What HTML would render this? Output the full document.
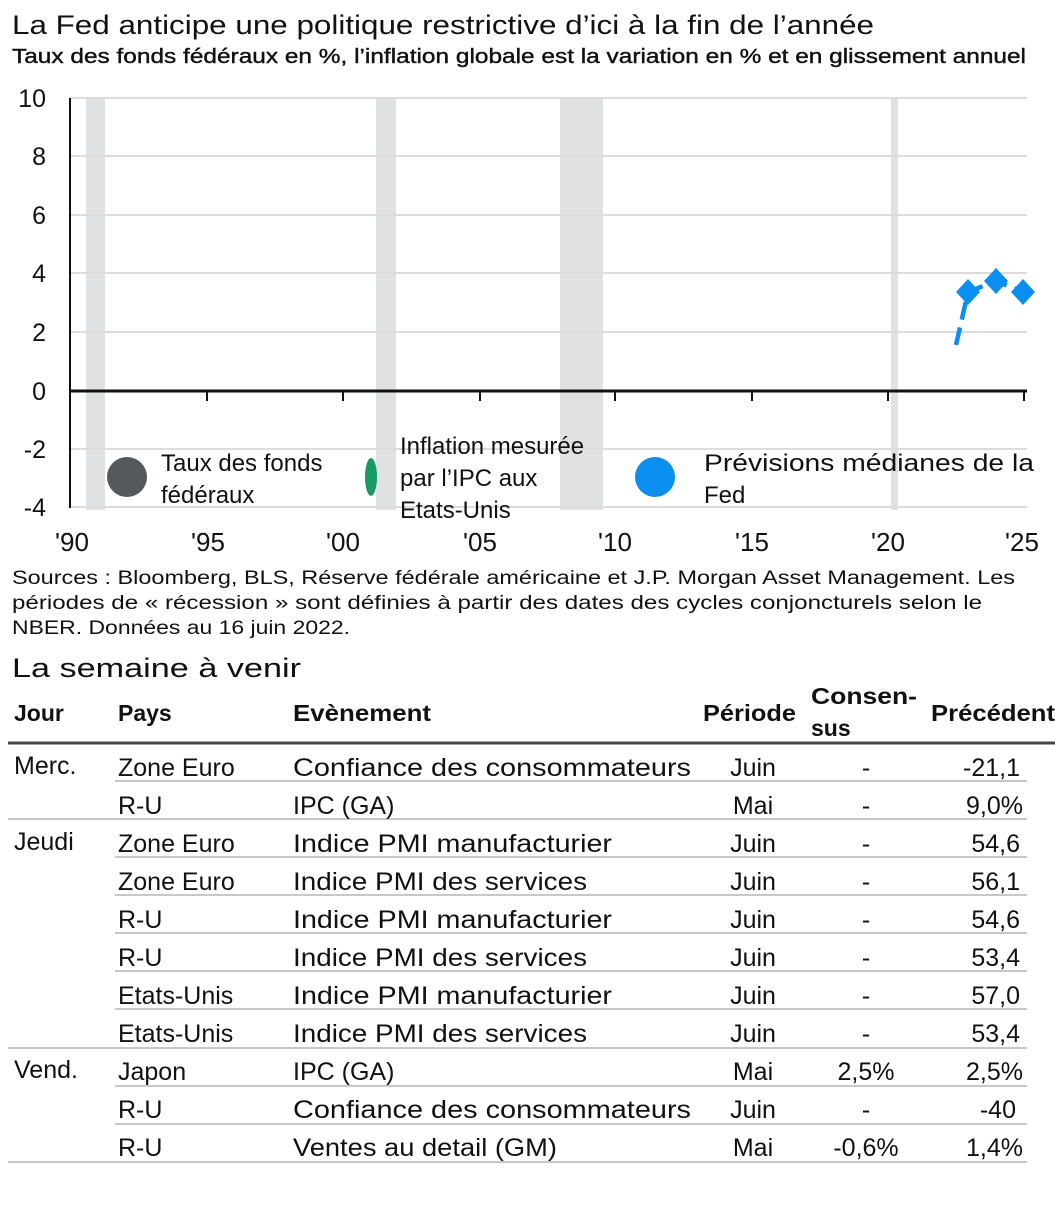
<!DOCTYPE html>
<html><head><meta charset="utf-8"><style>
body{margin:0;background:#fff}
svg text{font-family:"Liberation Sans",sans-serif;fill:#111}
</style></head><body>
<svg width="1055" height="1200" viewBox="0 0 1055 1200" xmlns="http://www.w3.org/2000/svg">
<text x="12" y="34" font-size="27" textLength="862" lengthAdjust="spacingAndGlyphs">La Fed anticipe une politique restrictive d’ici à la fin de l’année</text>
<text x="12" y="63" font-size="20" fill="#111" stroke="#111" stroke-width="0.4" textLength="1014" lengthAdjust="spacingAndGlyphs">Taux des fonds fédéraux en %, l’inflation globale est la variation en % et en glissement annuel</text>
<g fill="#e0e1e3">
<rect x="86" y="98" width="19" height="412"/>
<rect x="376" y="98" width="20" height="412"/>
<rect x="560" y="98" width="43" height="412"/>
<rect x="891" y="98" width="7" height="412"/>
</g>
<g stroke="#dcdcdc" stroke-width="2">
<line x1="70" y1="98" x2="1027" y2="98"/>
<line x1="70" y1="156" x2="1027" y2="156"/>
<line x1="70" y1="215" x2="1027" y2="215"/>
<line x1="70" y1="273" x2="1027" y2="273"/>
<line x1="70" y1="332" x2="1027" y2="332"/>
<line x1="70" y1="449" x2="1027" y2="449"/>
<line x1="70" y1="507" x2="1027" y2="507"/>
</g>
<line x1="70" y1="98" x2="70" y2="508" stroke="#111" stroke-width="2"/>
<line x1="70" y1="391" x2="1027" y2="391" stroke="#111" stroke-width="3"/>
<g stroke="#111" stroke-width="2">
<line x1="207" y1="391" x2="207" y2="401"/><line x1="343" y1="391" x2="343" y2="401"/>
<line x1="480" y1="391" x2="480" y2="401"/><line x1="615" y1="391" x2="615" y2="401"/>
<line x1="752" y1="391" x2="752" y2="401"/><line x1="888" y1="391" x2="888" y2="401"/>
<line x1="1024" y1="391" x2="1024" y2="401"/>
</g>
<g font-size="25" text-anchor="end">
<text x="46" y="107">10</text><text x="46" y="165">8</text><text x="46" y="224">6</text>
<text x="46" y="282">4</text><text x="46" y="341">2</text><text x="46" y="400">0</text>
<text x="46" y="458">-2</text><text x="46" y="516">-4</text>
</g>
<g font-size="26" text-anchor="middle">
<text x="72" y="551">'90</text><text x="208" y="551">'95</text><text x="343" y="551">'00</text>
<text x="480" y="551">'05</text><text x="615" y="551">'10</text><text x="752" y="551">'15</text>
<text x="888" y="551">'20</text><text x="1022" y="551">'25</text>
</g>
<path d="M956,345 L968,292 L996,281 L1023,292" fill="none" stroke="#0a8ff0" stroke-width="4.5" stroke-dasharray="18,8"/>
<g fill="#0a8ff0">
<path d="M968,279 l12,13 -12,13 -12,-13z"/>
<path d="M996,268 l12,13 -12,13 -12,-13z"/>
<path d="M1023,279 l12,13 -12,13 -12,-13z"/>
</g>
<circle cx="127" cy="477" r="20" fill="#55585c"/>
<ellipse cx="371" cy="477" rx="6" ry="19" fill="#1a9a62"/>
<circle cx="655" cy="477" r="20" fill="#0a8ff0"/>
<g font-size="24">
<text x="161" y="471">Taux des fonds</text><text x="161" y="503">fédéraux</text>
<text x="400" y="454">Inflation mesurée</text><text x="400" y="486">par l’IPC aux</text><text x="400" y="518">Etats-Unis</text>
<text x="704" y="471" textLength="330" lengthAdjust="spacingAndGlyphs">Prévisions médianes de la</text><text x="704" y="503">Fed</text>
</g>
<g font-size="19" fill="#222">
<text x="12" y="584" textLength="1003" lengthAdjust="spacingAndGlyphs">Sources : Bloomberg, BLS, Réserve fédérale américaine et J.P. Morgan Asset Management. Les</text>
<text x="12" y="609" textLength="970" lengthAdjust="spacingAndGlyphs">périodes de « récession » sont définies à partir des dates des cycles conjoncturels selon le</text>
<text x="12" y="634" textLength="338" lengthAdjust="spacingAndGlyphs">NBER. Données au 16 juin 2022.</text>
</g>
<text x="12" y="677" font-size="27" textLength="289" lengthAdjust="spacingAndGlyphs">La semaine à venir</text>
<g font-size="23" font-weight="bold">
<text x="14" y="721">Jour</text><text x="118" y="721">Pays</text><text x="293" y="721" textLength="138" lengthAdjust="spacingAndGlyphs">Evènement</text>
<text x="703" y="721" textLength="93" lengthAdjust="spacingAndGlyphs">Période</text>
<text x="811" y="704" textLength="106" lengthAdjust="spacingAndGlyphs">Consen-</text><text x="811" y="736">sus</text>
<text x="931" y="721" textLength="124" lengthAdjust="spacingAndGlyphs">Précédent</text>
</g>
<line x1="8" y1="743" x2="1055" y2="743" stroke="#444" stroke-width="3"/>
<g stroke="#c8c8c8" stroke-width="2">
<line x1="115" y1="781" x2="1027" y2="781"/>
<line x1="8" y1="819" x2="1027" y2="819"/>
<line x1="115" y1="857" x2="1027" y2="857"/>
<line x1="115" y1="895" x2="1027" y2="895"/>
<line x1="115" y1="933" x2="1027" y2="933"/>
<line x1="115" y1="971" x2="1027" y2="971"/>
<line x1="115" y1="1009" x2="1027" y2="1009"/>
<line x1="8" y1="1048" x2="1027" y2="1048"/>
<line x1="115" y1="1086" x2="1027" y2="1086"/>
<line x1="115" y1="1124" x2="1027" y2="1124"/>
<line x1="8" y1="1162" x2="1027" y2="1162"/>
</g>
<g font-size="25">
<text x="14" y="774">Merc.</text><text x="14" y="850">Jeudi</text><text x="14" y="1078">Vend.</text>
<text x="118" y="776">Zone Euro</text><text x="118" y="814">R-U</text><text x="118" y="852">Zone Euro</text>
<text x="118" y="890">Zone Euro</text><text x="118" y="928">R-U</text><text x="118" y="966">R-U</text>
<text x="118" y="1004">Etats-Unis</text><text x="118" y="1042">Etats-Unis</text><text x="118" y="1080">Japon</text>
<text x="118" y="1118">R-U</text><text x="118" y="1156">R-U</text>
<text x="293" y="776" textLength="398" lengthAdjust="spacingAndGlyphs">Confiance des consommateurs</text>
<text x="293" y="814">IPC (GA)</text>
<text x="293" y="852" textLength="319" lengthAdjust="spacingAndGlyphs">Indice PMI manufacturier</text>
<text x="293" y="890" textLength="294" lengthAdjust="spacingAndGlyphs">Indice PMI des services</text>
<text x="293" y="928" textLength="319" lengthAdjust="spacingAndGlyphs">Indice PMI manufacturier</text>
<text x="293" y="966" textLength="294" lengthAdjust="spacingAndGlyphs">Indice PMI des services</text>
<text x="293" y="1004" textLength="319" lengthAdjust="spacingAndGlyphs">Indice PMI manufacturier</text>
<text x="293" y="1042" textLength="294" lengthAdjust="spacingAndGlyphs">Indice PMI des services</text>
<text x="293" y="1080">IPC (GA)</text>
<text x="293" y="1118" textLength="398" lengthAdjust="spacingAndGlyphs">Confiance des consommateurs</text>
<text x="293" y="1156" textLength="264" lengthAdjust="spacingAndGlyphs">Ventes au detail (GM)</text>
<g text-anchor="middle">
<text x="753" y="776">Juin</text><text x="753" y="814">Mai</text><text x="753" y="852">Juin</text>
<text x="753" y="890">Juin</text><text x="753" y="928">Juin</text><text x="753" y="966">Juin</text>
<text x="753" y="1004">Juin</text><text x="753" y="1042">Juin</text><text x="753" y="1080">Mai</text>
<text x="753" y="1118">Juin</text><text x="753" y="1156">Mai</text>
<text x="866" y="776">-</text><text x="866" y="814">-</text><text x="866" y="852">-</text>
<text x="866" y="890">-</text><text x="866" y="928">-</text><text x="866" y="966">-</text>
<text x="866" y="1004">-</text><text x="866" y="1042">-</text><text x="866" y="1080">2,5%</text>
<text x="866" y="1118">-</text><text x="866" y="1156">-0,6%</text>
</g>
<g text-anchor="end">
<text x="1020" y="776">-21,1</text><text x="1023" y="814">9,0%</text><text x="1020" y="852">54,6</text>
<text x="1020" y="890">56,1</text><text x="1020" y="928">54,6</text><text x="1020" y="966">53,4</text>
<text x="1020" y="1004">57,0</text><text x="1020" y="1042">53,4</text><text x="1023" y="1080">2,5%</text>
<text x="1016" y="1118">-40</text><text x="1023" y="1156">1,4%</text>
</g>
</g>
</svg>
</body></html>
